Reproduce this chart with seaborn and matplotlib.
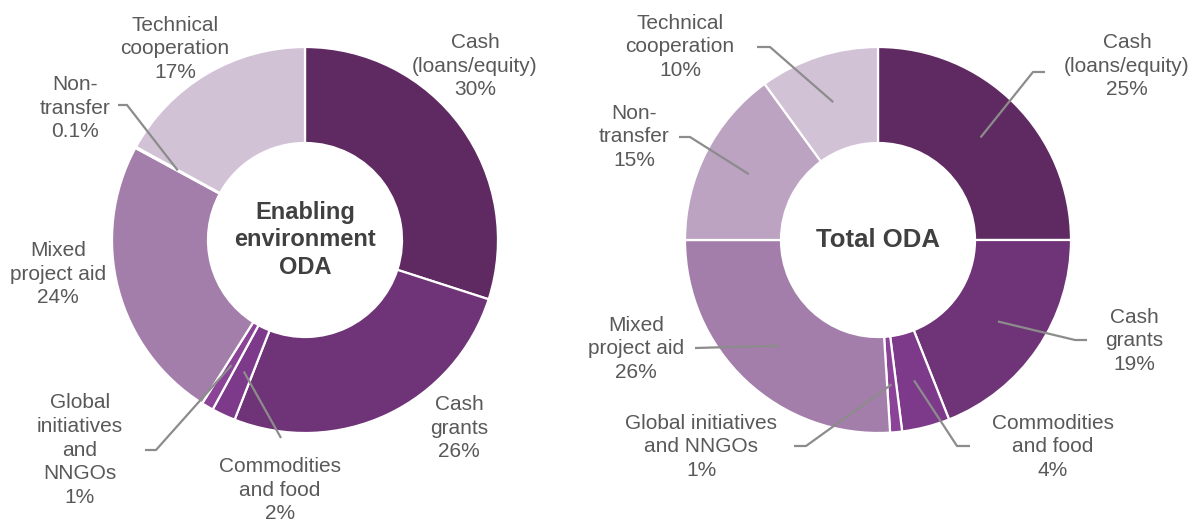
import numpy as np
import matplotlib
matplotlib.use("Agg")
import matplotlib.pyplot as plt
import seaborn as sns

# ---------------- data ----------------
categories = ["Cash (loans/equity)", "Cash grants", "Commodities and food",
              "Global initiatives and NNGOs", "Mixed project aid",
              "Non-transfer", "Technical cooperation"]
left_values = [30, 26, 2, 1, 24, 0.1, 17]
left_pct = ["30%", "26%", "2%", "1%", "24%", "0.1%", "17%"]
right_values = [25, 19, 4, 1, 26, 15, 10]
right_pct = ["25%", "19%", "4%", "1%", "26%", "15%", "10%"]
left_names = ["Cash\n(loans/equity)", "Cash\ngrants", "Commodities\nand food",
              "Global\ninitiatives\nand\nNNGOs", "Mixed\nproject aid",
              "Non-\ntransfer", "Technical\ncooperation"]
right_names = ["Cash\n(loans/equity)", "Cash\ngrants", "Commodities\nand food",
               "Global initiatives\nand NNGOs", "Mixed\nproject aid",
               "Non-\ntransfer", "Technical\ncooperation"]
left_title = "Enabling\nenvironment\nODA"
right_title = "Total ODA"

# ---------------- style ----------------
sns.set_style("white")
plt.rcParams['font.family'] = ['Liberation Sans', 'DejaVu Sans']
palette = sns.color_palette(["#5F2961", "#6F3377", "#7D3A8B", "#8A4396",
                             "#A47EAA", "#BCA3C1", "#D2C2D6"])
TXT = "#595959"
LINE = "#8C8C8C"
H = 521

fig = plt.figure(figsize=(11.94, 5.21), dpi=100)
ax = fig.add_axes([0, 0, 1, 1])

R_OUT, R_IN = 193, 97


def draw(center, values, pct, names, title, title_size, label_pos, leaders):
    cx, cy_top = center
    c = (cx, H - cy_top)
    wedges, _ = ax.pie(values, colors=palette, startangle=90, counterclock=False,
                       radius=R_OUT, center=c,
                       wedgeprops=dict(width=R_OUT - R_IN, edgecolor="white",
                                       linewidth=1.6))
    ax.text(c[0], c[1], title, ha="center", va="center", fontsize=title_size,
            fontweight="bold", color="#404040", linespacing=1.25)
    for i, (x, y) in label_pos.items():
        ax.text(x, H - y, names[i] + "\n" + pct[i], ha="center", va="center",
                fontsize=15, color=TXT, linespacing=1.32)
    rm = (R_OUT + R_IN) / 2
    for i, pts in leaders.items():
        w = wedges[i]
        a = np.deg2rad((w.theta1 + w.theta2) / 2)
        xs = [c[0] + rm * np.cos(a)] + [p[0] for p in pts]
        ys = [c[1] + rm * np.sin(a)] + [H - p[1] for p in pts]
        ax.plot(xs, ys, color=LINE, lw=1.6, solid_capstyle="butt")


draw((305, 240), left_values, left_pct, left_names, left_title, 17,
     {0: (475, 66), 1: (459, 428), 2: (280, 490), 3: (80, 450),
      4: (58, 274), 5: (75, 108), 6: (175, 49)},
     {5: [(127, 105), (118, 105)], 3: [(156, 450), (145, 450)],
      2: [(281, 438)]})

draw((878, 240), right_values, right_pct, right_names, right_title, 18.5,
     {0: (1127, 66), 1: (1134, 341), 2: (1053, 447), 3: (701, 447),
      4: (636, 349), 5: (634, 137), 6: (680, 47)},
     {0: [(1033, 72), (1045, 72)], 1: [(1075, 340), (1087, 340)],
      2: [(957, 446), (970, 446)], 3: [(806, 446), (794, 446)],
      4: [(695, 348)], 5: [(690, 137), (679, 137)],
      6: [(770, 47), (757, 47)]})

ax.set_aspect("auto")
ax.set_xlim(0, 1194)
ax.set_ylim(0, H)
ax.axis("off")

fig.savefig("out.png", dpi=100)
